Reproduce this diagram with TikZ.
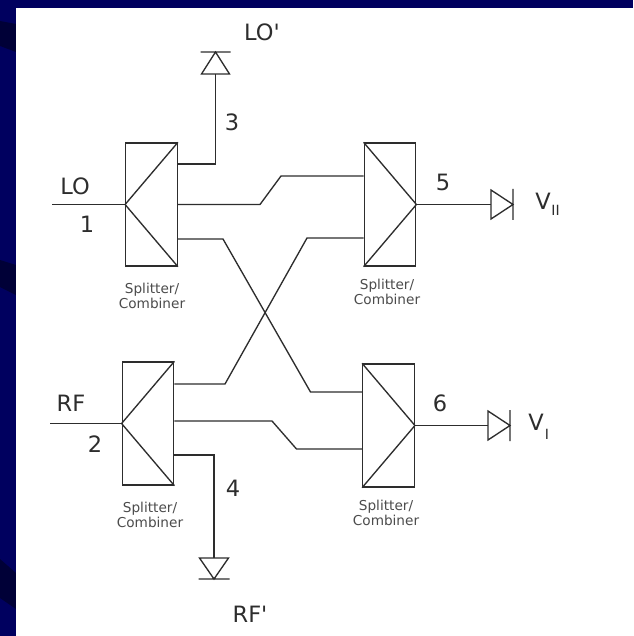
\documentclass[tikz,border=0pt]{standalone}
\usepackage{fontspec}
\setmainfont{DejaVu Sans}
\definecolor{slidenavy}{RGB}{0,0,95}
\definecolor{slidedark}{RGB}{0,0,55}
\definecolor{inkgray}{RGB}{45,45,45}
\tikzset{
    splitbox/.style={draw=inkgray,minimum width=1.2875cm,minimum height=3.075cm,inner sep=0},
    wire/.style={draw=inkgray,line width=.95pt},
    portlabel/.style={text=inkgray,font=\fontsize{16}{17}\selectfont,inner sep=0},
    sublabel/.style={text=inkgray,font=\fontsize{10}{11}\selectfont,inner sep=0},
    caption/.style={text=inkgray!85,align=center,inner sep=0,font=\fontsize{9.7}{10.2}\selectfont},
}
\begin{document}
\begin{tikzpicture}[x=.025cm,y=-.025cm,every node/.append style={line width=.95pt}]
\useasboundingbox (0,0) rectangle (633,636);
\fill[slidenavy] (0,0) rectangle (633,636);
\fill[slidedark]
      (0,21) -- (16,24) -- (16,52) -- (0,46) -- cycle
      (0,260) -- (16,265) -- (16,295) -- (0,287) -- cycle
      (0,559) -- (16,573) -- (16,609) -- (0,598) -- cycle;
\fill[white] (16,8) rectangle (633,636);

% splitters
\node [splitbox] (splitLO) at (151.5,204.5) {};
\node [splitbox] (splitRF) at (148,423.5) {};
\node [splitbox] (splitII) at (390,204.5) {};
\node [splitbox] (splitI)  at (388.5,425.5) {};
\draw[wire]
    (splitLO.north east) -- (splitLO.west) -- (splitLO.south east)
    (splitRF.north east) -- (splitRF.west) -- (splitRF.south east)
    (splitII.north west) -- (splitII.east) -- (splitII.south west)
    (splitI.north west)  -- (splitI.east)  -- (splitI.south west);

\node [caption] (capLO) at (152,296) {Splitter/\\Combiner};
\node [caption] (capRF) at (150,515) {Splitter/\\Combiner};
\node [caption] (capII) at (387,292) {Splitter/\\Combiner};
\node [caption] (capI)  at (386,513) {Splitter/\\Combiner};

% free ends and detectors
\coordinate (inLO)  at (52,204.5);
\coordinate (inRF)  at (50,423.5);
\coordinate (det3)  at (215.5,74);
\coordinate (det4)  at (214,558);
\coordinate (det5)  at (491,204.5);
\coordinate (det6)  at (488,425.5);

\draw[wire] (det3) ++(-14,0) -- ++(28,0) -- ++(-14,-22) -- cycle
    (det3) ++(-15,-22) -- ++(30,0);
\draw[wire] (det4) ++(-14.5,0) -- ++(29,0) -- ++(-14.5,21) -- cycle
    (det4) ++(-15.5,21) -- ++(31,0);
\draw[wire] (det5) ++(0,-14.5) -- ++(0,29) -- ++(22,-14.5) -- cycle
    (det5) ++(22,-15.5) -- ++(0,31);
\draw[wire] (det6) ++(0,-14.5) -- ++(0,29) -- ++(22,-14.5) -- cycle
    (det6) ++(22,-15.5) -- ++(0,31);

% connectors
\draw[wire] (inLO) -- (splitLO.west);
\draw[wire] (inRF) -- (splitRF.west);
\draw[wire] (splitII.east) -- (det5);
\draw[wire] (splitI.east) -- (det6);
\draw[wire] (splitLO.east |- 0,164) -| (det3);
\draw[wire] (splitRF.east |- 0,455) -| (det4);
\draw[wire] (splitLO.east) -- (260,204.5) -- (281,176) -- (splitII.west |- 0,176);
\draw[wire] (splitLO.east |- 0,239) -- (223,239) -- (310.5,392) -- (splitI.west |- 0,392);
\draw[wire] (splitRF.east |- 0,384) -- (225,384) -- (307,238) -- (splitII.west |- 0,238);
\draw[wire] (splitRF.east |- 0,421) -- (272,421) -- (296.5,449) -- (splitI.west |- 0,449);

% labels
\node [portlabel] (lblLO)  at (75,186)  {LO};
\node [portlabel] (lblLOp) at (262,32)  {LO\textquotesingle};
\node [portlabel] (lblRF)  at (71,403)  {RF};
\node [portlabel] (lblRFp) at (250,614) {RF\textquotesingle};
\node [portlabel] (lbl1)   at (87,224)  {1};
\node [portlabel] (lbl2)   at (95,444)  {2};
\node [portlabel] (lbl3)   at (232,122) {3};
\node [portlabel] (lbl4)   at (233,488) {4};
\node [portlabel] (lbl5)   at (443,182) {5};
\node [portlabel] (lbl6)   at (440,403) {6};
\node [portlabel] (lblVII) at (543,201) {V};
\node [sublabel]  (subII)  at (555.5,210) {II};
\node [portlabel] (lblVI)  at (536,422) {V};
\node [sublabel]  (subI)   at (547,434) {I};
\end{tikzpicture}
\end{document}
